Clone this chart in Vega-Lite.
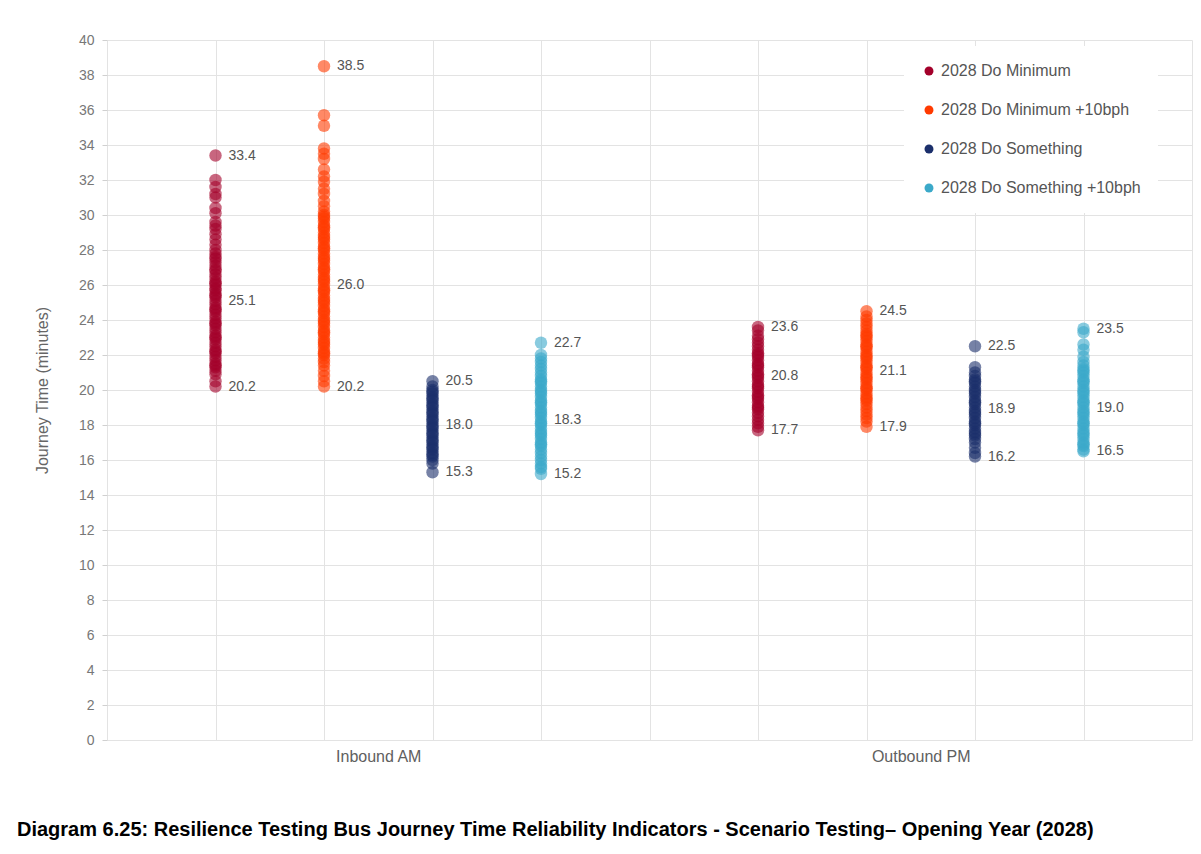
{
"$schema": "https://vega.github.io/schema/vega-lite/v6.json",
"width": 1085, "height": 700,
"autosize": {"type": "none"},
"padding": {"left": 107, "top": 40, "right": 9, "bottom": 114},
"background": "white",
"title": {"text": "Diagram 6.25: Resilience Testing Bus Journey Time Reliability Indicators - Scenario Testing– Opening Year (2028)", "orient": "bottom", "anchor": "start", "frame": "group", "dx": -90, "offset": 56, "font": "Liberation Sans", "fontSize": 20, "fontWeight": "bold", "color": "#000000"},
"config": {
  "view": {"stroke": null},
  "font": "Liberation Sans",
  "axis": {"gridColor": "#e3e3e3", "gridWidth": 1}
},
"datasets": {
"points": [
{"period":"Inbound AM","scenario":"2028 Do Minimum","minutes":33.4},
{"period":"Inbound AM","scenario":"2028 Do Minimum","minutes":32.0},
{"period":"Inbound AM","scenario":"2028 Do Minimum","minutes":31.6},
{"period":"Inbound AM","scenario":"2028 Do Minimum","minutes":31.2},
{"period":"Inbound AM","scenario":"2028 Do Minimum","minutes":31.0},
{"period":"Inbound AM","scenario":"2028 Do Minimum","minutes":30.4},
{"period":"Inbound AM","scenario":"2028 Do Minimum","minutes":30.1},
{"period":"Inbound AM","scenario":"2028 Do Minimum","minutes":29.6},
{"period":"Inbound AM","scenario":"2028 Do Minimum","minutes":29.4},
{"period":"Inbound AM","scenario":"2028 Do Minimum","minutes":29.2},
{"period":"Inbound AM","scenario":"2028 Do Minimum","minutes":28.9},
{"period":"Inbound AM","scenario":"2028 Do Minimum","minutes":28.6},
{"period":"Inbound AM","scenario":"2028 Do Minimum","minutes":28.3},
{"period":"Inbound AM","scenario":"2028 Do Minimum","minutes":28.0},
{"period":"Inbound AM","scenario":"2028 Do Minimum","minutes":27.8},
{"period":"Inbound AM","scenario":"2028 Do Minimum","minutes":27.6},
{"period":"Inbound AM","scenario":"2028 Do Minimum","minutes":27.3},
{"period":"Inbound AM","scenario":"2028 Do Minimum","minutes":27.1},
{"period":"Inbound AM","scenario":"2028 Do Minimum","minutes":26.9},
{"period":"Inbound AM","scenario":"2028 Do Minimum","minutes":26.6},
{"period":"Inbound AM","scenario":"2028 Do Minimum","minutes":26.4},
{"period":"Inbound AM","scenario":"2028 Do Minimum","minutes":26.2},
{"period":"Inbound AM","scenario":"2028 Do Minimum","minutes":26.0},
{"period":"Inbound AM","scenario":"2028 Do Minimum","minutes":25.8},
{"period":"Inbound AM","scenario":"2028 Do Minimum","minutes":25.7},
{"period":"Inbound AM","scenario":"2028 Do Minimum","minutes":25.5},
{"period":"Inbound AM","scenario":"2028 Do Minimum","minutes":25.3},
{"period":"Inbound AM","scenario":"2028 Do Minimum","minutes":25.1},
{"period":"Inbound AM","scenario":"2028 Do Minimum","minutes":24.9},
{"period":"Inbound AM","scenario":"2028 Do Minimum","minutes":24.7},
{"period":"Inbound AM","scenario":"2028 Do Minimum","minutes":24.5},
{"period":"Inbound AM","scenario":"2028 Do Minimum","minutes":24.3},
{"period":"Inbound AM","scenario":"2028 Do Minimum","minutes":24.1},
{"period":"Inbound AM","scenario":"2028 Do Minimum","minutes":23.9},
{"period":"Inbound AM","scenario":"2028 Do Minimum","minutes":23.7},
{"period":"Inbound AM","scenario":"2028 Do Minimum","minutes":23.5},
{"period":"Inbound AM","scenario":"2028 Do Minimum","minutes":23.3},
{"period":"Inbound AM","scenario":"2028 Do Minimum","minutes":23.1},
{"period":"Inbound AM","scenario":"2028 Do Minimum","minutes":22.9},
{"period":"Inbound AM","scenario":"2028 Do Minimum","minutes":22.7},
{"period":"Inbound AM","scenario":"2028 Do Minimum","minutes":22.5},
{"period":"Inbound AM","scenario":"2028 Do Minimum","minutes":22.3},
{"period":"Inbound AM","scenario":"2028 Do Minimum","minutes":22.1},
{"period":"Inbound AM","scenario":"2028 Do Minimum","minutes":21.9},
{"period":"Inbound AM","scenario":"2028 Do Minimum","minutes":21.7},
{"period":"Inbound AM","scenario":"2028 Do Minimum","minutes":21.5},
{"period":"Inbound AM","scenario":"2028 Do Minimum","minutes":21.3},
{"period":"Inbound AM","scenario":"2028 Do Minimum","minutes":21.1},
{"period":"Inbound AM","scenario":"2028 Do Minimum","minutes":20.9},
{"period":"Inbound AM","scenario":"2028 Do Minimum","minutes":20.5},
{"period":"Inbound AM","scenario":"2028 Do Minimum","minutes":20.2},
{"period":"Inbound AM","scenario":"2028 Do Minimum","minutes":27.5},
{"period":"Inbound AM","scenario":"2028 Do Minimum","minutes":26.8},
{"period":"Inbound AM","scenario":"2028 Do Minimum","minutes":26.1},
{"period":"Inbound AM","scenario":"2028 Do Minimum","minutes":25.4},
{"period":"Inbound AM","scenario":"2028 Do Minimum","minutes":24.6},
{"period":"Inbound AM","scenario":"2028 Do Minimum","minutes":23.8},
{"period":"Inbound AM","scenario":"2028 Do Minimum","minutes":23.0},
{"period":"Inbound AM","scenario":"2028 Do Minimum","minutes":22.2},
{"period":"Inbound AM","scenario":"2028 Do Minimum","minutes":21.4},
{"period":"Inbound AM","scenario":"2028 Do Minimum +10bph","minutes":38.5},
{"period":"Inbound AM","scenario":"2028 Do Minimum +10bph","minutes":35.7},
{"period":"Inbound AM","scenario":"2028 Do Minimum +10bph","minutes":35.1},
{"period":"Inbound AM","scenario":"2028 Do Minimum +10bph","minutes":33.8},
{"period":"Inbound AM","scenario":"2028 Do Minimum +10bph","minutes":33.5},
{"period":"Inbound AM","scenario":"2028 Do Minimum +10bph","minutes":33.2},
{"period":"Inbound AM","scenario":"2028 Do Minimum +10bph","minutes":32.6},
{"period":"Inbound AM","scenario":"2028 Do Minimum +10bph","minutes":32.2},
{"period":"Inbound AM","scenario":"2028 Do Minimum +10bph","minutes":31.9},
{"period":"Inbound AM","scenario":"2028 Do Minimum +10bph","minutes":31.5},
{"period":"Inbound AM","scenario":"2028 Do Minimum +10bph","minutes":31.2},
{"period":"Inbound AM","scenario":"2028 Do Minimum +10bph","minutes":30.8},
{"period":"Inbound AM","scenario":"2028 Do Minimum +10bph","minutes":30.5},
{"period":"Inbound AM","scenario":"2028 Do Minimum +10bph","minutes":30.2},
{"period":"Inbound AM","scenario":"2028 Do Minimum +10bph","minutes":30.0},
{"period":"Inbound AM","scenario":"2028 Do Minimum +10bph","minutes":29.8},
{"period":"Inbound AM","scenario":"2028 Do Minimum +10bph","minutes":29.6},
{"period":"Inbound AM","scenario":"2028 Do Minimum +10bph","minutes":29.4},
{"period":"Inbound AM","scenario":"2028 Do Minimum +10bph","minutes":29.2},
{"period":"Inbound AM","scenario":"2028 Do Minimum +10bph","minutes":29.0},
{"period":"Inbound AM","scenario":"2028 Do Minimum +10bph","minutes":28.8},
{"period":"Inbound AM","scenario":"2028 Do Minimum +10bph","minutes":28.6},
{"period":"Inbound AM","scenario":"2028 Do Minimum +10bph","minutes":28.4},
{"period":"Inbound AM","scenario":"2028 Do Minimum +10bph","minutes":28.2},
{"period":"Inbound AM","scenario":"2028 Do Minimum +10bph","minutes":28.0},
{"period":"Inbound AM","scenario":"2028 Do Minimum +10bph","minutes":27.8},
{"period":"Inbound AM","scenario":"2028 Do Minimum +10bph","minutes":27.6},
{"period":"Inbound AM","scenario":"2028 Do Minimum +10bph","minutes":27.4},
{"period":"Inbound AM","scenario":"2028 Do Minimum +10bph","minutes":27.2},
{"period":"Inbound AM","scenario":"2028 Do Minimum +10bph","minutes":27.0},
{"period":"Inbound AM","scenario":"2028 Do Minimum +10bph","minutes":26.8},
{"period":"Inbound AM","scenario":"2028 Do Minimum +10bph","minutes":26.6},
{"period":"Inbound AM","scenario":"2028 Do Minimum +10bph","minutes":26.4},
{"period":"Inbound AM","scenario":"2028 Do Minimum +10bph","minutes":26.2},
{"period":"Inbound AM","scenario":"2028 Do Minimum +10bph","minutes":26.0},
{"period":"Inbound AM","scenario":"2028 Do Minimum +10bph","minutes":25.8},
{"period":"Inbound AM","scenario":"2028 Do Minimum +10bph","minutes":25.6},
{"period":"Inbound AM","scenario":"2028 Do Minimum +10bph","minutes":25.4},
{"period":"Inbound AM","scenario":"2028 Do Minimum +10bph","minutes":25.2},
{"period":"Inbound AM","scenario":"2028 Do Minimum +10bph","minutes":25.0},
{"period":"Inbound AM","scenario":"2028 Do Minimum +10bph","minutes":24.8},
{"period":"Inbound AM","scenario":"2028 Do Minimum +10bph","minutes":24.6},
{"period":"Inbound AM","scenario":"2028 Do Minimum +10bph","minutes":24.4},
{"period":"Inbound AM","scenario":"2028 Do Minimum +10bph","minutes":24.2},
{"period":"Inbound AM","scenario":"2028 Do Minimum +10bph","minutes":24.0},
{"period":"Inbound AM","scenario":"2028 Do Minimum +10bph","minutes":23.8},
{"period":"Inbound AM","scenario":"2028 Do Minimum +10bph","minutes":23.6},
{"period":"Inbound AM","scenario":"2028 Do Minimum +10bph","minutes":23.4},
{"period":"Inbound AM","scenario":"2028 Do Minimum +10bph","minutes":23.2},
{"period":"Inbound AM","scenario":"2028 Do Minimum +10bph","minutes":23.0},
{"period":"Inbound AM","scenario":"2028 Do Minimum +10bph","minutes":22.8},
{"period":"Inbound AM","scenario":"2028 Do Minimum +10bph","minutes":22.6},
{"period":"Inbound AM","scenario":"2028 Do Minimum +10bph","minutes":22.4},
{"period":"Inbound AM","scenario":"2028 Do Minimum +10bph","minutes":22.2},
{"period":"Inbound AM","scenario":"2028 Do Minimum +10bph","minutes":22.0},
{"period":"Inbound AM","scenario":"2028 Do Minimum +10bph","minutes":21.8},
{"period":"Inbound AM","scenario":"2028 Do Minimum +10bph","minutes":21.6},
{"period":"Inbound AM","scenario":"2028 Do Minimum +10bph","minutes":21.4},
{"period":"Inbound AM","scenario":"2028 Do Minimum +10bph","minutes":21.1},
{"period":"Inbound AM","scenario":"2028 Do Minimum +10bph","minutes":20.8},
{"period":"Inbound AM","scenario":"2028 Do Minimum +10bph","minutes":20.5},
{"period":"Inbound AM","scenario":"2028 Do Minimum +10bph","minutes":20.2},
{"period":"Inbound AM","scenario":"2028 Do Minimum +10bph","minutes":29.9},
{"period":"Inbound AM","scenario":"2028 Do Minimum +10bph","minutes":29.3},
{"period":"Inbound AM","scenario":"2028 Do Minimum +10bph","minutes":28.7},
{"period":"Inbound AM","scenario":"2028 Do Minimum +10bph","minutes":28.1},
{"period":"Inbound AM","scenario":"2028 Do Minimum +10bph","minutes":27.5},
{"period":"Inbound AM","scenario":"2028 Do Minimum +10bph","minutes":26.9},
{"period":"Inbound AM","scenario":"2028 Do Minimum +10bph","minutes":26.3},
{"period":"Inbound AM","scenario":"2028 Do Minimum +10bph","minutes":25.7},
{"period":"Inbound AM","scenario":"2028 Do Minimum +10bph","minutes":25.1},
{"period":"Inbound AM","scenario":"2028 Do Minimum +10bph","minutes":24.5},
{"period":"Inbound AM","scenario":"2028 Do Minimum +10bph","minutes":23.9},
{"period":"Inbound AM","scenario":"2028 Do Minimum +10bph","minutes":23.3},
{"period":"Inbound AM","scenario":"2028 Do Minimum +10bph","minutes":22.7},
{"period":"Inbound AM","scenario":"2028 Do Minimum +10bph","minutes":22.1},
{"period":"Inbound AM","scenario":"2028 Do Something","minutes":20.5},
{"period":"Inbound AM","scenario":"2028 Do Something","minutes":20.2},
{"period":"Inbound AM","scenario":"2028 Do Something","minutes":20.0},
{"period":"Inbound AM","scenario":"2028 Do Something","minutes":19.8},
{"period":"Inbound AM","scenario":"2028 Do Something","minutes":19.6},
{"period":"Inbound AM","scenario":"2028 Do Something","minutes":19.4},
{"period":"Inbound AM","scenario":"2028 Do Something","minutes":19.2},
{"period":"Inbound AM","scenario":"2028 Do Something","minutes":19.0},
{"period":"Inbound AM","scenario":"2028 Do Something","minutes":18.8},
{"period":"Inbound AM","scenario":"2028 Do Something","minutes":18.6},
{"period":"Inbound AM","scenario":"2028 Do Something","minutes":18.4},
{"period":"Inbound AM","scenario":"2028 Do Something","minutes":18.2},
{"period":"Inbound AM","scenario":"2028 Do Something","minutes":18.0},
{"period":"Inbound AM","scenario":"2028 Do Something","minutes":17.8},
{"period":"Inbound AM","scenario":"2028 Do Something","minutes":17.6},
{"period":"Inbound AM","scenario":"2028 Do Something","minutes":17.4},
{"period":"Inbound AM","scenario":"2028 Do Something","minutes":17.2},
{"period":"Inbound AM","scenario":"2028 Do Something","minutes":17.0},
{"period":"Inbound AM","scenario":"2028 Do Something","minutes":16.8},
{"period":"Inbound AM","scenario":"2028 Do Something","minutes":16.6},
{"period":"Inbound AM","scenario":"2028 Do Something","minutes":16.4},
{"period":"Inbound AM","scenario":"2028 Do Something","minutes":16.2},
{"period":"Inbound AM","scenario":"2028 Do Something","minutes":16.0},
{"period":"Inbound AM","scenario":"2028 Do Something","minutes":15.8},
{"period":"Inbound AM","scenario":"2028 Do Something","minutes":15.3},
{"period":"Inbound AM","scenario":"2028 Do Something","minutes":19.9},
{"period":"Inbound AM","scenario":"2028 Do Something","minutes":19.5},
{"period":"Inbound AM","scenario":"2028 Do Something","minutes":19.1},
{"period":"Inbound AM","scenario":"2028 Do Something","minutes":18.7},
{"period":"Inbound AM","scenario":"2028 Do Something","minutes":18.3},
{"period":"Inbound AM","scenario":"2028 Do Something","minutes":17.9},
{"period":"Inbound AM","scenario":"2028 Do Something","minutes":17.5},
{"period":"Inbound AM","scenario":"2028 Do Something","minutes":17.1},
{"period":"Inbound AM","scenario":"2028 Do Something","minutes":16.7},
{"period":"Inbound AM","scenario":"2028 Do Something","minutes":16.3},
{"period":"Inbound AM","scenario":"2028 Do Something +10bph","minutes":22.7},
{"period":"Inbound AM","scenario":"2028 Do Something +10bph","minutes":22.0},
{"period":"Inbound AM","scenario":"2028 Do Something +10bph","minutes":21.8},
{"period":"Inbound AM","scenario":"2028 Do Something +10bph","minutes":21.6},
{"period":"Inbound AM","scenario":"2028 Do Something +10bph","minutes":21.4},
{"period":"Inbound AM","scenario":"2028 Do Something +10bph","minutes":21.2},
{"period":"Inbound AM","scenario":"2028 Do Something +10bph","minutes":21.0},
{"period":"Inbound AM","scenario":"2028 Do Something +10bph","minutes":20.8},
{"period":"Inbound AM","scenario":"2028 Do Something +10bph","minutes":20.6},
{"period":"Inbound AM","scenario":"2028 Do Something +10bph","minutes":20.4},
{"period":"Inbound AM","scenario":"2028 Do Something +10bph","minutes":20.2},
{"period":"Inbound AM","scenario":"2028 Do Something +10bph","minutes":20.0},
{"period":"Inbound AM","scenario":"2028 Do Something +10bph","minutes":19.8},
{"period":"Inbound AM","scenario":"2028 Do Something +10bph","minutes":19.6},
{"period":"Inbound AM","scenario":"2028 Do Something +10bph","minutes":19.4},
{"period":"Inbound AM","scenario":"2028 Do Something +10bph","minutes":19.2},
{"period":"Inbound AM","scenario":"2028 Do Something +10bph","minutes":19.0},
{"period":"Inbound AM","scenario":"2028 Do Something +10bph","minutes":18.8},
{"period":"Inbound AM","scenario":"2028 Do Something +10bph","minutes":18.6},
{"period":"Inbound AM","scenario":"2028 Do Something +10bph","minutes":18.4},
{"period":"Inbound AM","scenario":"2028 Do Something +10bph","minutes":18.2},
{"period":"Inbound AM","scenario":"2028 Do Something +10bph","minutes":18.0},
{"period":"Inbound AM","scenario":"2028 Do Something +10bph","minutes":17.8},
{"period":"Inbound AM","scenario":"2028 Do Something +10bph","minutes":17.6},
{"period":"Inbound AM","scenario":"2028 Do Something +10bph","minutes":17.4},
{"period":"Inbound AM","scenario":"2028 Do Something +10bph","minutes":17.2},
{"period":"Inbound AM","scenario":"2028 Do Something +10bph","minutes":17.0},
{"period":"Inbound AM","scenario":"2028 Do Something +10bph","minutes":16.8},
{"period":"Inbound AM","scenario":"2028 Do Something +10bph","minutes":16.6},
{"period":"Inbound AM","scenario":"2028 Do Something +10bph","minutes":16.4},
{"period":"Inbound AM","scenario":"2028 Do Something +10bph","minutes":16.2},
{"period":"Inbound AM","scenario":"2028 Do Something +10bph","minutes":16.0},
{"period":"Inbound AM","scenario":"2028 Do Something +10bph","minutes":15.8},
{"period":"Inbound AM","scenario":"2028 Do Something +10bph","minutes":15.6},
{"period":"Inbound AM","scenario":"2028 Do Something +10bph","minutes":15.5},
{"period":"Inbound AM","scenario":"2028 Do Something +10bph","minutes":15.2},
{"period":"Inbound AM","scenario":"2028 Do Something +10bph","minutes":20.5},
{"period":"Inbound AM","scenario":"2028 Do Something +10bph","minutes":19.9},
{"period":"Inbound AM","scenario":"2028 Do Something +10bph","minutes":19.3},
{"period":"Inbound AM","scenario":"2028 Do Something +10bph","minutes":18.7},
{"period":"Inbound AM","scenario":"2028 Do Something +10bph","minutes":18.1},
{"period":"Inbound AM","scenario":"2028 Do Something +10bph","minutes":17.5},
{"period":"Inbound AM","scenario":"2028 Do Something +10bph","minutes":16.9},
{"period":"Outbound PM","scenario":"2028 Do Minimum","minutes":23.6},
{"period":"Outbound PM","scenario":"2028 Do Minimum","minutes":23.4},
{"period":"Outbound PM","scenario":"2028 Do Minimum","minutes":23.1},
{"period":"Outbound PM","scenario":"2028 Do Minimum","minutes":22.9},
{"period":"Outbound PM","scenario":"2028 Do Minimum","minutes":22.7},
{"period":"Outbound PM","scenario":"2028 Do Minimum","minutes":22.5},
{"period":"Outbound PM","scenario":"2028 Do Minimum","minutes":22.3},
{"period":"Outbound PM","scenario":"2028 Do Minimum","minutes":22.1},
{"period":"Outbound PM","scenario":"2028 Do Minimum","minutes":21.9},
{"period":"Outbound PM","scenario":"2028 Do Minimum","minutes":21.7},
{"period":"Outbound PM","scenario":"2028 Do Minimum","minutes":21.5},
{"period":"Outbound PM","scenario":"2028 Do Minimum","minutes":21.3},
{"period":"Outbound PM","scenario":"2028 Do Minimum","minutes":21.1},
{"period":"Outbound PM","scenario":"2028 Do Minimum","minutes":20.9},
{"period":"Outbound PM","scenario":"2028 Do Minimum","minutes":20.7},
{"period":"Outbound PM","scenario":"2028 Do Minimum","minutes":20.5},
{"period":"Outbound PM","scenario":"2028 Do Minimum","minutes":20.3},
{"period":"Outbound PM","scenario":"2028 Do Minimum","minutes":20.1},
{"period":"Outbound PM","scenario":"2028 Do Minimum","minutes":19.9},
{"period":"Outbound PM","scenario":"2028 Do Minimum","minutes":19.7},
{"period":"Outbound PM","scenario":"2028 Do Minimum","minutes":19.5},
{"period":"Outbound PM","scenario":"2028 Do Minimum","minutes":19.3},
{"period":"Outbound PM","scenario":"2028 Do Minimum","minutes":19.1},
{"period":"Outbound PM","scenario":"2028 Do Minimum","minutes":18.9},
{"period":"Outbound PM","scenario":"2028 Do Minimum","minutes":18.7},
{"period":"Outbound PM","scenario":"2028 Do Minimum","minutes":18.5},
{"period":"Outbound PM","scenario":"2028 Do Minimum","minutes":18.3},
{"period":"Outbound PM","scenario":"2028 Do Minimum","minutes":18.1},
{"period":"Outbound PM","scenario":"2028 Do Minimum","minutes":17.9},
{"period":"Outbound PM","scenario":"2028 Do Minimum","minutes":17.7},
{"period":"Outbound PM","scenario":"2028 Do Minimum","minutes":22.0},
{"period":"Outbound PM","scenario":"2028 Do Minimum","minutes":21.4},
{"period":"Outbound PM","scenario":"2028 Do Minimum","minutes":20.8},
{"period":"Outbound PM","scenario":"2028 Do Minimum","minutes":20.2},
{"period":"Outbound PM","scenario":"2028 Do Minimum","minutes":19.6},
{"period":"Outbound PM","scenario":"2028 Do Minimum","minutes":19.0},
{"period":"Outbound PM","scenario":"2028 Do Minimum +10bph","minutes":24.5},
{"period":"Outbound PM","scenario":"2028 Do Minimum +10bph","minutes":24.2},
{"period":"Outbound PM","scenario":"2028 Do Minimum +10bph","minutes":24.0},
{"period":"Outbound PM","scenario":"2028 Do Minimum +10bph","minutes":23.8},
{"period":"Outbound PM","scenario":"2028 Do Minimum +10bph","minutes":23.6},
{"period":"Outbound PM","scenario":"2028 Do Minimum +10bph","minutes":23.4},
{"period":"Outbound PM","scenario":"2028 Do Minimum +10bph","minutes":23.2},
{"period":"Outbound PM","scenario":"2028 Do Minimum +10bph","minutes":23.0},
{"period":"Outbound PM","scenario":"2028 Do Minimum +10bph","minutes":22.8},
{"period":"Outbound PM","scenario":"2028 Do Minimum +10bph","minutes":22.6},
{"period":"Outbound PM","scenario":"2028 Do Minimum +10bph","minutes":22.4},
{"period":"Outbound PM","scenario":"2028 Do Minimum +10bph","minutes":22.2},
{"period":"Outbound PM","scenario":"2028 Do Minimum +10bph","minutes":22.0},
{"period":"Outbound PM","scenario":"2028 Do Minimum +10bph","minutes":21.8},
{"period":"Outbound PM","scenario":"2028 Do Minimum +10bph","minutes":21.6},
{"period":"Outbound PM","scenario":"2028 Do Minimum +10bph","minutes":21.4},
{"period":"Outbound PM","scenario":"2028 Do Minimum +10bph","minutes":21.2},
{"period":"Outbound PM","scenario":"2028 Do Minimum +10bph","minutes":21.0},
{"period":"Outbound PM","scenario":"2028 Do Minimum +10bph","minutes":20.8},
{"period":"Outbound PM","scenario":"2028 Do Minimum +10bph","minutes":20.6},
{"period":"Outbound PM","scenario":"2028 Do Minimum +10bph","minutes":20.4},
{"period":"Outbound PM","scenario":"2028 Do Minimum +10bph","minutes":20.2},
{"period":"Outbound PM","scenario":"2028 Do Minimum +10bph","minutes":20.0},
{"period":"Outbound PM","scenario":"2028 Do Minimum +10bph","minutes":19.8},
{"period":"Outbound PM","scenario":"2028 Do Minimum +10bph","minutes":19.6},
{"period":"Outbound PM","scenario":"2028 Do Minimum +10bph","minutes":19.4},
{"period":"Outbound PM","scenario":"2028 Do Minimum +10bph","minutes":19.2},
{"period":"Outbound PM","scenario":"2028 Do Minimum +10bph","minutes":19.0},
{"period":"Outbound PM","scenario":"2028 Do Minimum +10bph","minutes":18.8},
{"period":"Outbound PM","scenario":"2028 Do Minimum +10bph","minutes":18.6},
{"period":"Outbound PM","scenario":"2028 Do Minimum +10bph","minutes":18.4},
{"period":"Outbound PM","scenario":"2028 Do Minimum +10bph","minutes":18.2},
{"period":"Outbound PM","scenario":"2028 Do Minimum +10bph","minutes":17.9},
{"period":"Outbound PM","scenario":"2028 Do Minimum +10bph","minutes":23.1},
{"period":"Outbound PM","scenario":"2028 Do Minimum +10bph","minutes":22.5},
{"period":"Outbound PM","scenario":"2028 Do Minimum +10bph","minutes":21.9},
{"period":"Outbound PM","scenario":"2028 Do Minimum +10bph","minutes":21.3},
{"period":"Outbound PM","scenario":"2028 Do Minimum +10bph","minutes":20.7},
{"period":"Outbound PM","scenario":"2028 Do Minimum +10bph","minutes":20.1},
{"period":"Outbound PM","scenario":"2028 Do Minimum +10bph","minutes":19.5},
{"period":"Outbound PM","scenario":"2028 Do Something","minutes":22.5},
{"period":"Outbound PM","scenario":"2028 Do Something","minutes":21.3},
{"period":"Outbound PM","scenario":"2028 Do Something","minutes":21.0},
{"period":"Outbound PM","scenario":"2028 Do Something","minutes":20.8},
{"period":"Outbound PM","scenario":"2028 Do Something","minutes":20.6},
{"period":"Outbound PM","scenario":"2028 Do Something","minutes":20.4},
{"period":"Outbound PM","scenario":"2028 Do Something","minutes":20.2},
{"period":"Outbound PM","scenario":"2028 Do Something","minutes":20.0},
{"period":"Outbound PM","scenario":"2028 Do Something","minutes":19.8},
{"period":"Outbound PM","scenario":"2028 Do Something","minutes":19.6},
{"period":"Outbound PM","scenario":"2028 Do Something","minutes":19.4},
{"period":"Outbound PM","scenario":"2028 Do Something","minutes":19.2},
{"period":"Outbound PM","scenario":"2028 Do Something","minutes":19.0},
{"period":"Outbound PM","scenario":"2028 Do Something","minutes":18.8},
{"period":"Outbound PM","scenario":"2028 Do Something","minutes":18.6},
{"period":"Outbound PM","scenario":"2028 Do Something","minutes":18.4},
{"period":"Outbound PM","scenario":"2028 Do Something","minutes":18.2},
{"period":"Outbound PM","scenario":"2028 Do Something","minutes":18.0},
{"period":"Outbound PM","scenario":"2028 Do Something","minutes":17.8},
{"period":"Outbound PM","scenario":"2028 Do Something","minutes":17.6},
{"period":"Outbound PM","scenario":"2028 Do Something","minutes":17.4},
{"period":"Outbound PM","scenario":"2028 Do Something","minutes":17.2},
{"period":"Outbound PM","scenario":"2028 Do Something","minutes":17.0},
{"period":"Outbound PM","scenario":"2028 Do Something","minutes":16.7},
{"period":"Outbound PM","scenario":"2028 Do Something","minutes":16.4},
{"period":"Outbound PM","scenario":"2028 Do Something","minutes":16.2},
{"period":"Outbound PM","scenario":"2028 Do Something","minutes":20.5},
{"period":"Outbound PM","scenario":"2028 Do Something","minutes":19.9},
{"period":"Outbound PM","scenario":"2028 Do Something","minutes":19.3},
{"period":"Outbound PM","scenario":"2028 Do Something","minutes":18.7},
{"period":"Outbound PM","scenario":"2028 Do Something","minutes":18.1},
{"period":"Outbound PM","scenario":"2028 Do Something","minutes":17.5},
{"period":"Outbound PM","scenario":"2028 Do Something +10bph","minutes":23.5},
{"period":"Outbound PM","scenario":"2028 Do Something +10bph","minutes":23.3},
{"period":"Outbound PM","scenario":"2028 Do Something +10bph","minutes":22.6},
{"period":"Outbound PM","scenario":"2028 Do Something +10bph","minutes":22.3},
{"period":"Outbound PM","scenario":"2028 Do Something +10bph","minutes":21.9},
{"period":"Outbound PM","scenario":"2028 Do Something +10bph","minutes":21.6},
{"period":"Outbound PM","scenario":"2028 Do Something +10bph","minutes":21.4},
{"period":"Outbound PM","scenario":"2028 Do Something +10bph","minutes":21.2},
{"period":"Outbound PM","scenario":"2028 Do Something +10bph","minutes":21.0},
{"period":"Outbound PM","scenario":"2028 Do Something +10bph","minutes":20.8},
{"period":"Outbound PM","scenario":"2028 Do Something +10bph","minutes":20.6},
{"period":"Outbound PM","scenario":"2028 Do Something +10bph","minutes":20.4},
{"period":"Outbound PM","scenario":"2028 Do Something +10bph","minutes":20.2},
{"period":"Outbound PM","scenario":"2028 Do Something +10bph","minutes":20.0},
{"period":"Outbound PM","scenario":"2028 Do Something +10bph","minutes":19.8},
{"period":"Outbound PM","scenario":"2028 Do Something +10bph","minutes":19.6},
{"period":"Outbound PM","scenario":"2028 Do Something +10bph","minutes":19.4},
{"period":"Outbound PM","scenario":"2028 Do Something +10bph","minutes":19.2},
{"period":"Outbound PM","scenario":"2028 Do Something +10bph","minutes":19.0},
{"period":"Outbound PM","scenario":"2028 Do Something +10bph","minutes":18.8},
{"period":"Outbound PM","scenario":"2028 Do Something +10bph","minutes":18.6},
{"period":"Outbound PM","scenario":"2028 Do Something +10bph","minutes":18.4},
{"period":"Outbound PM","scenario":"2028 Do Something +10bph","minutes":18.2},
{"period":"Outbound PM","scenario":"2028 Do Something +10bph","minutes":18.0},
{"period":"Outbound PM","scenario":"2028 Do Something +10bph","minutes":17.8},
{"period":"Outbound PM","scenario":"2028 Do Something +10bph","minutes":17.6},
{"period":"Outbound PM","scenario":"2028 Do Something +10bph","minutes":17.4},
{"period":"Outbound PM","scenario":"2028 Do Something +10bph","minutes":17.2},
{"period":"Outbound PM","scenario":"2028 Do Something +10bph","minutes":17.0},
{"period":"Outbound PM","scenario":"2028 Do Something +10bph","minutes":16.8},
{"period":"Outbound PM","scenario":"2028 Do Something +10bph","minutes":16.6},
{"period":"Outbound PM","scenario":"2028 Do Something +10bph","minutes":16.5},
{"period":"Outbound PM","scenario":"2028 Do Something +10bph","minutes":21.1},
{"period":"Outbound PM","scenario":"2028 Do Something +10bph","minutes":20.5},
{"period":"Outbound PM","scenario":"2028 Do Something +10bph","minutes":19.9},
{"period":"Outbound PM","scenario":"2028 Do Something +10bph","minutes":19.3},
{"period":"Outbound PM","scenario":"2028 Do Something +10bph","minutes":18.7},
{"period":"Outbound PM","scenario":"2028 Do Something +10bph","minutes":18.1},
{"period":"Outbound PM","scenario":"2028 Do Something +10bph","minutes":17.5},
{"period":"Outbound PM","scenario":"2028 Do Something +10bph","minutes":16.9}
],
"labels": [
{"period":"Inbound AM","scenario":"2028 Do Minimum","minutes":33.4},
{"period":"Inbound AM","scenario":"2028 Do Minimum","minutes":25.1},
{"period":"Inbound AM","scenario":"2028 Do Minimum","minutes":20.2},
{"period":"Inbound AM","scenario":"2028 Do Minimum +10bph","minutes":38.5},
{"period":"Inbound AM","scenario":"2028 Do Minimum +10bph","minutes":26.0},
{"period":"Inbound AM","scenario":"2028 Do Minimum +10bph","minutes":20.2},
{"period":"Inbound AM","scenario":"2028 Do Something","minutes":20.5},
{"period":"Inbound AM","scenario":"2028 Do Something","minutes":18.0},
{"period":"Inbound AM","scenario":"2028 Do Something","minutes":15.3},
{"period":"Inbound AM","scenario":"2028 Do Something +10bph","minutes":22.7},
{"period":"Inbound AM","scenario":"2028 Do Something +10bph","minutes":18.3},
{"period":"Inbound AM","scenario":"2028 Do Something +10bph","minutes":15.2},
{"period":"Outbound PM","scenario":"2028 Do Minimum","minutes":23.6},
{"period":"Outbound PM","scenario":"2028 Do Minimum","minutes":20.8},
{"period":"Outbound PM","scenario":"2028 Do Minimum","minutes":17.7},
{"period":"Outbound PM","scenario":"2028 Do Minimum +10bph","minutes":24.5},
{"period":"Outbound PM","scenario":"2028 Do Minimum +10bph","minutes":21.1},
{"period":"Outbound PM","scenario":"2028 Do Minimum +10bph","minutes":17.9},
{"period":"Outbound PM","scenario":"2028 Do Something","minutes":22.5},
{"period":"Outbound PM","scenario":"2028 Do Something","minutes":18.9},
{"period":"Outbound PM","scenario":"2028 Do Something","minutes":16.2},
{"period":"Outbound PM","scenario":"2028 Do Something +10bph","minutes":23.5},
{"period":"Outbound PM","scenario":"2028 Do Something +10bph","minutes":19.0},
{"period":"Outbound PM","scenario":"2028 Do Something +10bph","minutes":16.5}
]
},
"encoding": {
  "x": {"field": "slot", "type": "quantitative", "scale": {"domain": [0, 10], "nice": false, "zero": false},
    "axis": {"title": null, "values": [0,1,2,2.5,3,4,5,6,7,7.5,8,9,10], "tickCount": 40, "grid": true,
      "labelExpr": "datum.value == 2.5 ? 'Inbound AM' : datum.value == 7.5 ? 'Outbound PM' : ''",
      "gridOpacity": {"condition": {"test": "datum.value == 2.5 || datum.value == 7.5", "value": 0}, "value": 1},
      "ticks": false, "domain": false, "labelPadding": 8, "labelFontSize": 16, "labelColor": "#606060", "labelOverlap": false, "labelFlush": false}},
  "y": {"field": "minutes", "type": "quantitative", "scale": {"domain": [0, 40], "nice": false, "zero": true},
    "axis": {"title": "Journey Time (minutes)", "values": [0,2,4,6,8,10,12,14,16,18,20,22,24,26,28,30,32,34,36,38,40], "tickCount": 50, "grid": true,
      "titleFontSize": 16, "titleFontWeight": "normal", "titleColor": "#666666", "titlePadding": 28, "titleFont": "Liberation Sans",
      "labelFontSize": 14, "labelColor": "#777777", "labelPadding": 8, "labelOverlap": false, "tickSize": 5, "tickColor": "#d0d0d0", "domain": false}}
},
"layer": [
{
  "data": {"name": "points"},
  "transform": [{"calculate": "indexof(['2028 Do Minimum','2028 Do Minimum +10bph','2028 Do Something','2028 Do Something +10bph'], datum.scenario) + 1 + (datum.period === 'Outbound PM' ? 5 : 0)", "as": "slot"}],
  "mark": {"type": "circle", "size": 155, "opacity": 0.6},
  "encoding": {
    "color": {"field": "scenario", "type": "nominal",
      "scale": {"domain": ["2028 Do Minimum", "2028 Do Minimum +10bph", "2028 Do Something", "2028 Do Something +10bph"],
                "range": ["#a3002a", "#ff3a00", "#1b2f6b", "#3ba9c9"]},
      "legend": {"title": null, "orient": "none", "legendX": 797, "legendY": 6, "fillColor": "white", "padding": 17,
        "symbolType": "circle", "symbolSize": 80, "symbolOpacity": 1, "labelFontSize": 16, "labelColor": "#555555", "labelLimit": 400,
        "rowPadding": 23, "labelOffset": 4}}
  }
},
{
  "data": {"name": "labels"},
  "transform": [{"calculate": "indexof(['2028 Do Minimum','2028 Do Minimum +10bph','2028 Do Something','2028 Do Something +10bph'], datum.scenario) + 1 + (datum.period === 'Outbound PM' ? 5 : 0)", "as": "slot"}],
  "mark": {"type": "text", "align": "left", "baseline": "middle", "dx": 13, "fontSize": 14, "color": "#555555"},
  "encoding": {
    "text": {"field": "minutes", "type": "quantitative", "format": ".1f"}
  }
}
]
}
